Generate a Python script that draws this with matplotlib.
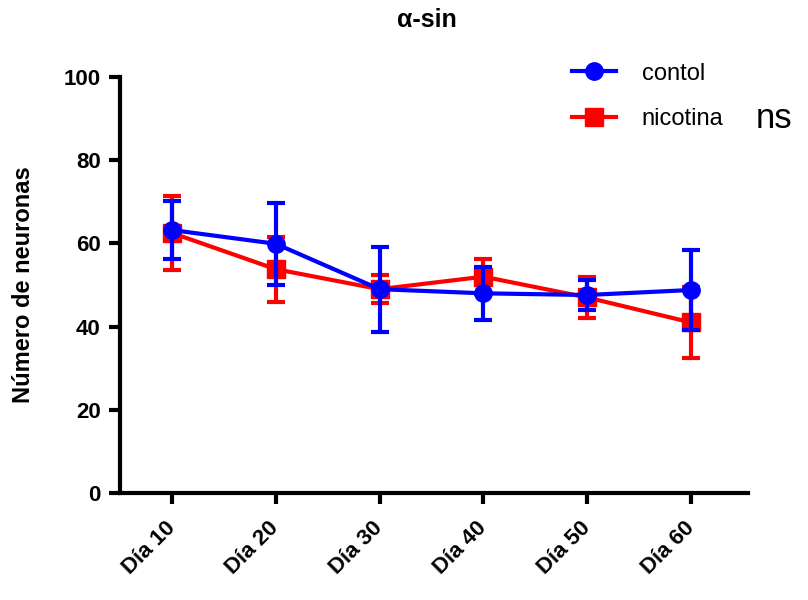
import matplotlib
matplotlib.use("Agg")
import matplotlib.pyplot as plt
from matplotlib.lines import Line2D

# === Data ===
days = ["Día 10", "Día 20", "Día 30", "Día 40", "Día 50", "Día 60"]
control_mean = [63.2, 59.9, 49.0, 48.0, 47.6, 48.8]
control_err = [6.9, 9.9, 10.2, 6.4, 3.6, 9.7]
nicotina_mean = [62.5, 53.8, 49.0, 52.0, 47.0, 41.0]
nicotina_err = [8.8, 7.8, 3.4, 4.2, 5.0, 8.5]

plt.rcParams['font.family'] = ['Liberation Sans', 'DejaVu Sans']

fig = plt.figure(figsize=(8.08, 6), dpi=100)
ax = fig.add_axes([0.1485, 0.178, 0.7775, 0.694])

x = list(range(1, len(days) + 1))

style = dict(markersize=12.5, linewidth=3, elinewidth=3, capsize=6.2, capthick=3)
ax.errorbar(x, nicotina_mean, yerr=nicotina_err, color='#ff0000', marker='s',
            zorder=2, **style)
ax.errorbar(x, control_mean, yerr=control_err, color='#0000ff', marker='o',
            zorder=3, **style)

ax.set_xlim(0.5, 6.55)
ax.set_ylim(0, 100)
ax.set_yticks([0, 20, 40, 60, 80, 100])
ax.set_xticks(x)
ax.set_xticklabels(days, rotation=45, ha='right', va='center',
                   rotation_mode='anchor', fontsize=16, fontweight='bold')
for lab in ax.get_yticklabels():
    lab.set_fontsize(16)
    lab.set_fontweight('bold')

for side in ['top', 'right']:
    ax.spines[side].set_visible(False)
for side in ['left', 'bottom']:
    ax.spines[side].set_linewidth(3)
ax.tick_params(axis='both', width=3, length=8, direction='out', pad=6)
ax.tick_params(axis='x', pad=15)

ax.set_ylabel("Número de neuronas", fontsize=17, fontweight='bold')
ax.yaxis.set_label_coords(-0.135, 0.5)
fig.text(0.528, 0.967, "α-sin", fontsize=18, fontweight='bold',
         ha='center', va='center')

handles = [
    Line2D([], [], color='#0000ff', marker='o', markersize=12.5, linewidth=3),
    Line2D([], [], color='#ff0000', marker='s', markersize=12.5, linewidth=3),
]
ax.legend(handles, ["contol", "nicotina"], loc='upper left',
          bbox_to_anchor=(0.686, 1.085), frameon=False, fontsize=17,
          handlelength=1.85, handletextpad=1.1, labelspacing=1.0)
fig.text(0.935, 0.803, "ns", fontsize=25, va='center')

fig.savefig("out.png", dpi=100)
